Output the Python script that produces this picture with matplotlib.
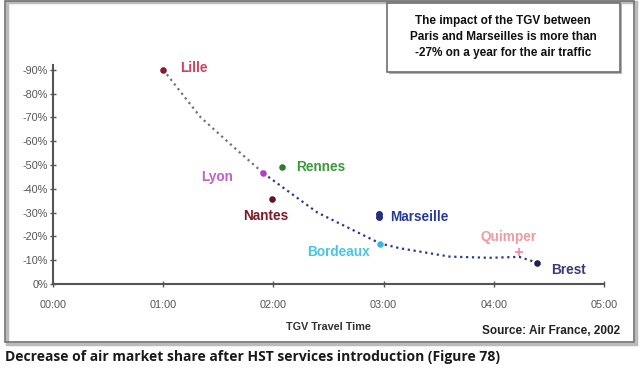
import matplotlib.pyplot as plt
from matplotlib.patches import Rectangle
from matplotlib.ticker import FuncFormatter, MultipleLocator

plt.rcParams['font.family'] = ['Liberation Sans', 'DejaVu Sans']

# --- data (travel time in hours, change of air share in %) ---
cities = ['Lille', 'Lyon', 'Rennes', 'Nantes', 'Marseille', 'Bordeaux', 'Quimper', 'Brest']
travel_hours = [1.00, 1.91, 2.08, 1.99, 2.96, 2.97, 4.23, 4.39]
share_change = [-90, -46.5, -49, -35.5, -28, -17, -13.5, -9]
point_colors = ['#8b1a2e', '#b040c0', '#2e7d2e', '#6a1020', '#28307a', '#3cb8e0', '#f08a9a', '#1e2250']
label_colors = ['#d0405a', '#c060d0', '#3a9a3a', '#7a1a2a', '#2a3a9a', '#48c4e8', '#f09aa0', '#3a3a7a']
point_markers = ['o', 'o', 'o', 'o', 'o', 'o', '+', 'o']

# dotted trend line as it appears on the chart
trend_hours = [1.00, 1.34, 1.64, 1.91, 2.40, 2.97, 3.15, 3.60, 3.96, 4.23, 4.39]
trend_change = [-90, -70, -57.5, -46.5, -30, -17, -15, -11.5, -11, -11.4, -9]

fig = plt.figure(figsize=(6.4, 3.77), dpi=100)
ax = fig.add_axes([53 / 640, 1 - 284 / 377, 551 / 640, 219 / 377])

# trend line: greyish near Lille, navy further down
ax.plot(trend_hours[:4], trend_change[:4], linestyle=':', color='#7a6a8a', linewidth=1.6)
ax.plot(trend_hours[3:], trend_change[3:], linestyle=':', color='#2a3a8a', linewidth=1.6)

for name, x, y, c, m in zip(cities, travel_hours, share_change, point_colors, point_markers):
    ms = 6 if m == '+' else 3.5
    if name == 'Marseille':
        ax.plot(x, y, marker=m, color=c, markersize=4, linestyle='none')
        ax.plot(x, y - 1.5, marker=m, color=c, markersize=4, linestyle='none')
    else:
        ax.plot(x, y, marker=m, color=c, markersize=ms, linestyle='none', markeredgewidth=1.2)

# city labels (offsets in points)
offsets = {
    'Lille': (12, 1), 'Lyon': (-45, -3), 'Rennes': (10, 0), 'Nantes': (-21, -12),
    'Marseille': (8, 0), 'Bordeaux': (-53, -6), 'Quimper': (-28, 11), 'Brest': (10, -5),
}
for name, x, y, c in zip(cities, travel_hours, share_change, label_colors):
    ax.annotate(name, (x, y), xytext=offsets[name], textcoords='offset points',
                color=c, fontsize=9.8, fontweight='bold', va='center', ha='left')

ax.set_xlim(0, 5)
ax.set_ylim(0, -92)
ax.xaxis.set_major_locator(MultipleLocator(1))
ax.yaxis.set_major_locator(MultipleLocator(10))
ax.xaxis.set_major_formatter(FuncFormatter(lambda v, p: f"{int(round(v)):02d}:00"))
ax.yaxis.set_major_formatter(FuncFormatter(lambda v, p: f"{int(round(v))}%"))

for side in ['top', 'right']:
    ax.spines[side].set_visible(False)
for side in ['left', 'bottom']:
    ax.spines[side].set_color('#555555')
    ax.spines[side].set_linewidth(1.5)
ax.tick_params(direction='inout', length=5, width=1, colors='#555555', labelcolor='#555555', labelsize=7.8)
ax.tick_params(axis='x', pad=9)
ax.tick_params(axis='y', pad=1)

ax.set_xlabel('TGV Travel Time', fontsize=7.8, fontweight='bold', color='#333333', labelpad=9)

# outer frame of the chart
fig.patches.append(Rectangle((7 / 640, 1 - 344 / 377), 629 / 640, 342 / 377, transform=fig.transFigure,
                             facecolor='none', edgecolor='#bbbbbb', linewidth=2.5))
fig.patches.append(Rectangle((5 / 640, 1 - 342 / 377), 629 / 640, 341 / 377, transform=fig.transFigure,
                             facecolor='none', edgecolor='#707070', linewidth=1.2))

# annotation box
fig.patches.append(Rectangle((389 / 640, 1 - 74 / 377), 233 / 640, 70 / 377, transform=fig.transFigure,
                             facecolor='#b0b0b0', edgecolor='none'))
fig.patches.append(Rectangle((387 / 640, 1 - 72 / 377), 233 / 640, 69 / 377, transform=fig.transFigure,
                             facecolor='white', edgecolor='#707070', linewidth=1.2))
fig.text(503 / 640, 1 - 37 / 377,
         'The impact of the TGV between\nParis and Marseilles is more than\n-27% on a year for the air traffic',
         ha='center', va='center', fontsize=8.5, fontweight='bold', color='#111111', linespacing=1.45)

fig.text(620 / 640, 1 - 331 / 377, 'Source: Air France, 2002', ha='right', va='center',
         fontsize=8.5, fontweight='bold', color='#222222')

fig.text(5 / 640, 1 - 357 / 377,
         'Decrease of air market share after HST services introduction (Figure 78)',
         ha='left', va='center', fontsize=10, fontweight='bold', color='#1a1a1a',
         family=['Open Sans', 'DejaVu Sans'])

fig.savefig('out.png', dpi=100)
